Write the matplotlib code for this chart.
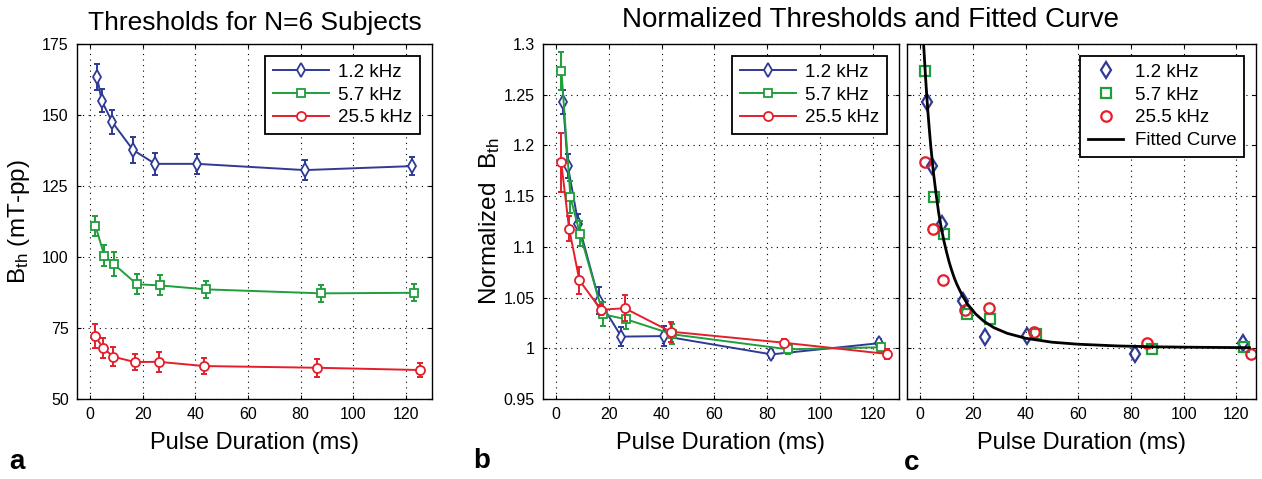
"""
strength-duration thresholds for three stimulation frequencies:
absolute thresholds (a), normalized thresholds (b) and the fitted curve (c)
"""
import matplotlib
matplotlib.use('Agg')
import matplotlib.pyplot as plt
from matplotlib.ticker import FixedLocator, FixedFormatter

plt.rcParams['font.family'] = ['Liberation Sans', 'DejaVu Sans']
plt.rcParams['mathtext.fontset'] = 'custom'
plt.rcParams['mathtext.rm'] = 'Liberation Sans'

# pulse durations (ms) per frequency
freq_labels = ['1.2 kHz', '5.7 kHz', '25.5 kHz']
t_12 = [2.6, 4.4, 8.4, 16.3, 24.7, 40.7, 81.6, 122.4]
t_57 = [2.0, 5.4, 9.0, 17.8, 26.5, 44.1, 87.9, 123.0]
t_255 = [1.9, 4.9, 8.8, 17.0, 26.0, 43.4, 86.3, 125.5]

# panel a: thresholds (mT-pp) and error bars
b_12 = [163.5, 155.0, 147.5, 137.7, 132.8, 132.8, 130.6, 132.0]
e_12 = [4.6, 4.0, 4.1, 4.5, 3.8, 3.5, 3.5, 3.3]
b_57 = [111.0, 100.5, 97.5, 90.4, 90.0, 88.6, 87.2, 87.4]
e_57 = [3.6, 3.8, 4.3, 3.5, 3.5, 2.9, 3.1, 3.0]
b_255 = [72.2, 68.0, 64.9, 63.0, 63.1, 61.6, 61.0, 60.2]
e_255 = [4.3, 3.6, 3.3, 2.9, 3.5, 2.9, 3.1, 2.6]

# panel b/c: normalized thresholds
n_12 = [1.243, 1.180, 1.123, 1.047, 1.0115, 1.012, 0.994, 1.005]
ne_12 = [0.012, 0.012, 0.009, 0.013, 0.009, 0.0095, 0.004, 0.0045]
n_57 = [1.273, 1.149, 1.113, 1.0335, 1.0286, 1.0138, 0.999, 1.001]
ne_57 = [0.0187, 0.0155, 0.0125, 0.012, 0.010, 0.010, 0.0045, 0.0045]
n_255 = [1.1835, 1.118, 1.067, 1.038, 1.0395, 1.0164, 1.0055, 0.9944]
ne_255 = [0.029, 0.0125, 0.013, 0.005, 0.013, 0.010, 0.004, 0.005]

# fitted curve
fit_t = [0.8, 1.3, 2, 2.5, 3, 3.5, 4, 4.5, 5, 6, 7, 8, 9, 10, 11, 12, 13, 14,
         16, 18, 21, 24, 28, 33, 40, 50, 60, 75, 90, 105, 125]
fit_b = [1.325, 1.300, 1.269, 1.249, 1.231, 1.215, 1.200, 1.187, 1.174, 1.153,
         1.134, 1.119, 1.106, 1.095, 1.085, 1.0766, 1.069, 1.0627, 1.052,
         1.0435, 1.034, 1.027, 1.0203, 1.0148, 1.0099, 1.006, 1.004, 1.0023,
         1.0014, 1.001, 1.0006]

x_ticks = [0, 20, 40, 60, 80, 100, 120]
a_ticks = [50, 75, 100, 125, 150, 175]
b_ticks = [0.95, 1.0, 1.05, 1.1, 1.15, 1.2, 1.25, 1.3]
b_tick_labels = ['0.95', '1', '1.05', '1.1', '1.15', '1.2', '1.25', '1.3']

colors = ['#2e3a94', '#1f9e3c', '#e41e2b']
markers = ['d', 's', 'o']
msizes = [7, 6, 6.5]


def style_axes(ax):
    """common matlab-ish look: inward ticks on all sides, dotted grid"""
    ax.set_xlim(-5, 130)
    ax.xaxis.set_major_locator(FixedLocator(x_ticks))
    ax.tick_params(direction='in', length=3, width=0.8, top=True, right=True,
                   labelsize=11.5, pad=6)
    ax.grid(True, color='black', linestyle=(0, (1, 4)), linewidth=0.8)
    for spine in ax.spines.values():
        spine.set_linewidth(1.0)
    ax.set_xlabel('Pulse Duration (ms)', fontsize=17, labelpad=7)


def add_legend(ax, handlelength, handletextpad):
    leg = ax.legend(loc='upper right', fontsize=13.5, handlelength=handlelength,
                    handletextpad=handletextpad, labelspacing=0.3,
                    borderaxespad=0.65, borderpad=0.4, fancybox=False,
                    framealpha=1, edgecolor='black')
    leg.get_frame().set_linewidth(1.3)


def draw_series(ax, series):
    for i, (t, b, e) in enumerate(series):
        ax.errorbar(t, b, yerr=e, fmt='none', ecolor=colors[i],
                    elinewidth=1.4, capsize=2.5, capthick=1.4)
        ax.plot(t, b, color=colors[i], marker=markers[i],
                markersize=msizes[i], markerfacecolor='white',
                markeredgewidth=1.3, linewidth=1.4, label=freq_labels[i])


fig = plt.figure(figsize=(12.62, 4.79), dpi=100)
ax_a = fig.add_axes([77 / 1262, 80 / 479, 355 / 1262, 355 / 479])
ax_b = fig.add_axes([543 / 1262, 80 / 479, 356 / 1262, 355 / 479])
ax_c = fig.add_axes([907 / 1262, 80 / 479, 349 / 1262, 355 / 479])

# panel a
draw_series(ax_a, [(t_12, b_12, e_12), (t_57, b_57, e_57),
                   (t_255, b_255, e_255)])
style_axes(ax_a)
ax_a.set_ylim(50, 175)
ax_a.yaxis.set_major_locator(FixedLocator(a_ticks))
ax_a.set_ylabel(r'$\mathregular{B_{th}}$ (mT-pp)', fontsize=17.5, labelpad=7)
ax_a.set_title('Thresholds for N=6 Subjects', fontsize=19, pad=10)
add_legend(ax_a, 3.0, 0.5)

# panel b
draw_series(ax_b, [(t_12, n_12, ne_12), (t_57, n_57, ne_57),
                   (t_255, n_255, ne_255)])
style_axes(ax_b)
ax_b.set_ylim(0.95, 1.3)
ax_b.yaxis.set_major_locator(FixedLocator(b_ticks))
ax_b.yaxis.set_major_formatter(FixedFormatter(b_tick_labels))
ax_b.set_ylabel(r'Normalized  $\mathregular{B_{th}}$', fontsize=17.5,
                labelpad=1)
add_legend(ax_b, 3.0, 0.5)

# panel c
c_series = [(t_12, n_12), (t_57, n_57), (t_255, n_255)]
for i, (t, b) in enumerate(c_series):
    ax_c.plot(t, b, linestyle='none', color=colors[i], marker=markers[i],
              markersize=msizes[i] + 1, markerfacecolor='none',
              markeredgewidth=1.6, label=freq_labels[i])
ax_c.plot(fit_t, fit_b, color='black', linewidth=2.0, label='Fitted Curve')
style_axes(ax_c)
ax_c.set_xlim(-5, 127.5)
ax_c.set_ylim(0.95, 1.3)
ax_c.yaxis.set_major_locator(FixedLocator(b_ticks))
ax_c.tick_params(labelleft=False)
add_legend(ax_c, 1.9, 0.6)

fig.text(871 / 1262, 1 - 20 / 479, 'Normalized Thresholds and Fitted Curve',
         fontsize=20, ha='center', va='center')

# panel letters
fig.text(17 / 1262, 1 - 462 / 479, 'a', fontsize=20, fontweight='bold',
         ha='center', va='center')
fig.text(482 / 1262, 1 - 461 / 479, 'b', fontsize=20, fontweight='bold',
         ha='center', va='center')
fig.text(912 / 1262, 1 - 463 / 479, 'c', fontsize=20, fontweight='bold',
         ha='center', va='center')

fig.savefig('out.png', dpi=100)
